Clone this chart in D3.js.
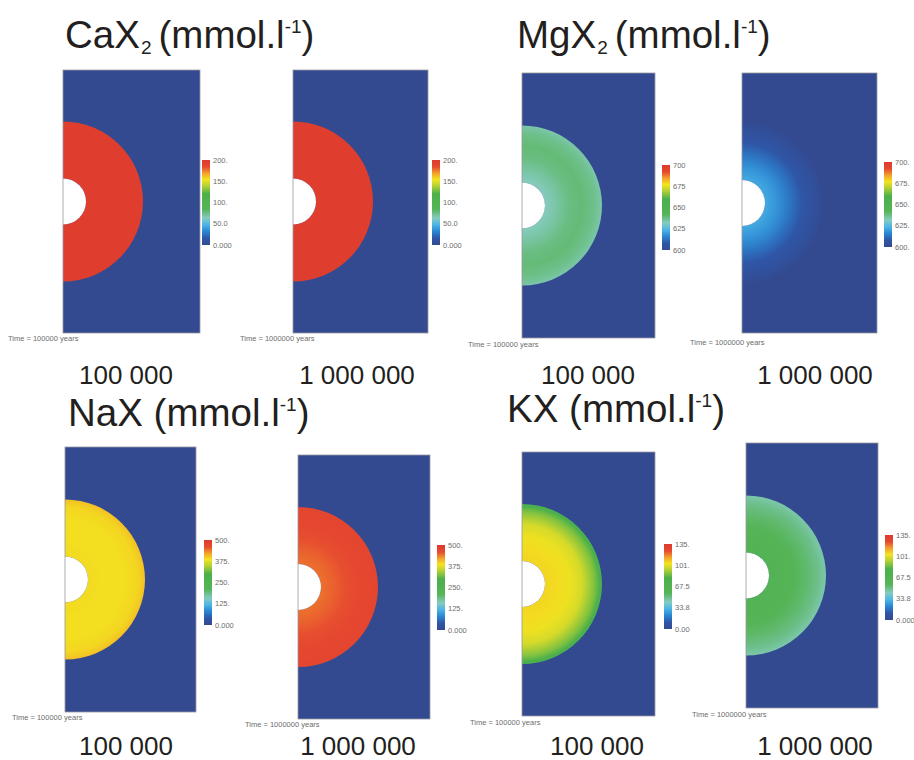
<!DOCTYPE html>
<html>
<head>
<meta charset="utf-8">
<script src="https://cdn.jsdelivr.net/npm/d3@7"></script>
<style>
  html, body { margin: 0; padding: 0; background: #fff; }
  svg { display: block; font-family: "Liberation Sans", Arial, sans-serif; }
</style>
</head>
<body>
<svg id="fig" width="914" height="760"></svg>
<script>
// Exchanger species shown in the four blocks
const speciesBase = ["CaX", "MgX", "NaX", "KX"];
const speciesSub = ["2", "2", "", ""];
// Simulated times (years) and the labels written under each map
const times = [100000, 1000000];
const timeLabels = ["100 000", "1 000 000"];

// Colour-bar ranges (mmol/l) and tick labels, one per map (species x time)
const barDomains = [[0, 200], [0, 200], [600, 700], [600, 700], [0, 500], [0, 500], [0, 135], [0, 135]];
const barTicks = [
  ["0.000", "50.0", "100.", "150.", "200."],
  ["0.000", "50.0", "100.", "150.", "200."],
  ["600", "625", "650", "675", "700"],
  ["600.", "625.", "650.", "675.", "700."],
  ["0.000", "125.", "250.", "375.", "500."],
  ["0.000", "125.", "250.", "375.", "500."],
  ["0.00", "33.8", "67.5", "101.", "135."],
  ["0.000", "33.8", "67.5", "101.", "135."]
];

// Radial profiles: relative radius (0 = gallery axis, 1 = front of the disturbed zone)
const profileRadius = [0.28, 0.45, 0.6, 0.75, 0.9, 0.97, 1.0];
const profileValues = [
  [196, 196, 196, 196, 196, 196, 196],      // CaX2 1e5
  [196, 196, 196, 196, 196, 196, 196],      // CaX2 1e6
  [632, 635, 638, 639, 637, 635, 634],      // MgX2 1e5
  [622, 618, 613, 608, 604, 602, 601],      // MgX2 1e6
  [390, 388, 387, 388, 392, 400, 406],      // NaX 1e5
  [442, 450, 458, 464, 468, 470, 470],      // NaX 1e6
  [106, 105, 103, 99, 88, 80, 76],          // KX 1e5
  [63, 61, 58, 54, 50, 47, 46]              // KX 1e6
];
// Value in the undisturbed rock (the blue background)
const farField = [0, 0, 600, 600, 0, 0, 0, 0];

// Layout of every map: rectangle, colour bar and "Time =" caption
const layout = [
  { x: 63, y: 70, w: 137, h: 263, bx: 202, by: 160, tx: 8, ty: 341 },
  { x: 293, y: 70, w: 135, h: 263, bx: 432, by: 160, tx: 240, ty: 341 },
  { x: 522, y: 73, w: 133, h: 265, bx: 662, by: 165, tx: 468, ty: 347 },
  { x: 742, y: 73, w: 135, h: 260, bx: 884, by: 162, tx: 690, ty: 345 },
  { x: 65, y: 447, w: 131, h: 265, bx: 204, by: 540, tx: 12, ty: 720 },
  { x: 298, y: 455, w: 132, h: 264, bx: 437, by: 545, tx: 245, ty: 727 },
  { x: 522, y: 452, w: 133, h: 264, bx: 664, by: 544, tx: 470, ty: 725 },
  { x: 746, y: 443, w: 132, h: 265, bx: 885, by: 535, tx: 692, ty: 717 }
];
const blocks = [
  { tx: 65, ty: 48, lx: [126, 357], ly: 384 },
  { tx: 517, ty: 48, lx: [588, 815], ly: 384 },
  { tx: 68, ty: 426, lx: [126, 358], ly: 755 },
  { tx: 507, ty: 422, lx: [597, 815], ly: 755 }
];

const discR = 80, holeR = 23, barW = 8, barH = 85;

// Rainbow colour map of the simulation post-processor
const rampStops = [
  [0.0, "#334a91"], [0.08, "#2f56a6"], [0.16, "#2a86d2"], [0.24, "#4db6e6"],
  [0.32, "#86cbbf"], [0.42, "#55b457"], [0.6, "#4bb04b"], [0.7, "#b7d234"],
  [0.77, "#f3e31f"], [0.84, "#f4a42b"], [0.92, "#e6492f"], [1.0, "#dc3a2f"]
];
const ramp = d3.scaleLinear()
  .domain(rampStops.map(d => d[0]))
  .range(rampStops.map(d => d[1]))
  .interpolate(d3.interpolateRgb)
  .clamp(true);

const svg = d3.select("#fig");
const defs = svg.append("defs");

layout.forEach((L, i) => {
  const dom = barDomains[i];
  const norm = d3.scaleLinear().domain(dom).range([0, 1]).clamp(true);
  const colour = v => ramp(norm(v));
  const g = svg.append("g");
  const cx = L.x, cy = L.y + L.h / 2;

  // undisturbed rock
  g.append("rect").attr("x", L.x).attr("y", L.y).attr("width", L.w).attr("height", L.h)
    .attr("fill", colour(farField[i]));

  // radial field of the disturbed zone (gradient centred on the gallery axis)
  const rScale = d3.scaleLinear().domain([0, 1]).range([0, discR]);
  const grad = defs.append("radialGradient").attr("id", "field" + i)
    .attr("gradientUnits", "userSpaceOnUse")
    .attr("cx", 0).attr("cy", 0).attr("r", rScale(1));
  profileRadius.forEach((r, k) => {
    grad.append("stop").attr("offset", r).attr("stop-color", colour(profileValues[i][k]));
  });
  const zone = g.append("g").attr("transform", `translate(${cx},${cy})`);
  zone.append("path")
    .attr("d", d3.arc().innerRadius(holeR).outerRadius(rScale(1)).startAngle(0).endAngle(Math.PI)())
    .attr("fill", `url(#field${i})`);
  // gallery (void)
  zone.append("path")
    .attr("d", d3.arc().innerRadius(0).outerRadius(holeR).startAngle(0).endAngle(Math.PI)())
    .attr("fill", "#ffffff");

  // frame
  g.append("rect").attr("x", L.x).attr("y", L.y).attr("width", L.w).attr("height", L.h)
    .attr("fill", "none").attr("stroke", "#9a9aa2").attr("stroke-width", 0.8);

  // colour bar
  const bg = defs.append("linearGradient").attr("id", "bar" + i)
    .attr("x1", 0).attr("y1", 1).attr("x2", 0).attr("y2", 0);
  rampStops.forEach(s => bg.append("stop").attr("offset", s[0]).attr("stop-color", s[1]));
  g.append("rect").attr("x", L.bx).attr("y", L.by).attr("width", barW).attr("height", barH)
    .attr("fill", `url(#bar${i})`);
  const yBar = d3.scaleLinear().domain([0, barTicks[i].length - 1]).range([L.by + barH, L.by]);
  g.selectAll(".tick").data(barTicks[i]).join("text")
    .attr("x", L.bx + barW + 3).attr("y", (d, k) => yBar(k) + 2.5)
    .attr("font-size", 7.5).attr("fill", "#6d6d6d").text(d => d);

  // time caption
  g.append("text").attr("x", L.tx).attr("y", L.ty).attr("font-size", 7.5).attr("fill", "#6d6d6d")
    .text(`Time = ${times[i % 2]} years`);
});

// block titles and time labels
blocks.forEach((B, j) => {
  const t = svg.append("text").attr("x", B.tx).attr("y", B.ty)
    .attr("font-size", 38.5).attr("fill", "#231f20");
  t.append("tspan").text(speciesBase[j]);
  if (speciesSub[j]) {
    t.append("tspan").attr("font-size", 19).attr("dy", 6).attr("dx", 1).text(speciesSub[j]);
    t.append("tspan").attr("dy", -6).attr("dx", 7).text("(mmol.l");
  } else {
    t.append("tspan").text(" (mmol.l");
  }
  t.append("tspan").attr("font-size", 19).attr("dy", -15).text("-1");
  t.append("tspan").attr("dy", 15).text(")");

  timeLabels.forEach((lab, k) => {
    svg.append("text").attr("x", B.lx[k]).attr("y", B.ly).attr("text-anchor", "middle")
      .attr("font-size", 26).attr("fill", "#231f20").text(lab);
  });
});
</script>
</body>
</html>
